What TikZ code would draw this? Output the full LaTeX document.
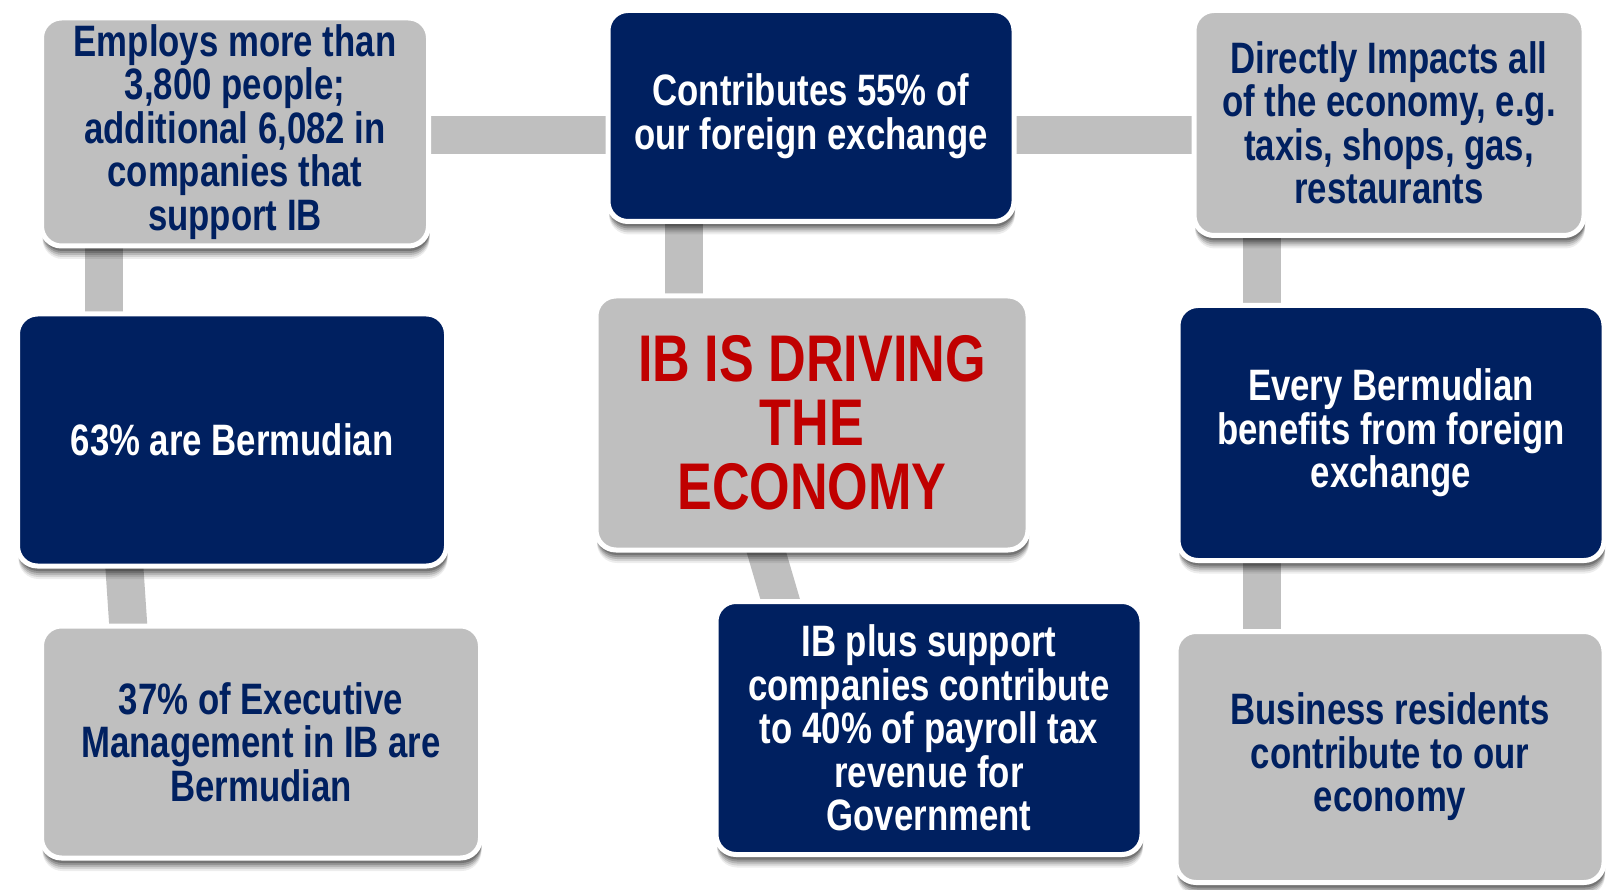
\documentclass[tikz,border=0pt]{standalone}
\usepackage{fontspec}
\setmainfont{Liberation Sans}[FakeStretch=0.79]
\usetikzlibrary{shadows}
\definecolor{navy}{HTML}{002060}
\definecolor{boxgray}{HTML}{BFBFBF}
\definecolor{ibred}{HTML}{C00000}
\tikzset{
  box/.style={rounded corners=20pt, draw=white, line width=5pt, align=center, inner sep=0pt,
    font=\bfseries\fontsize{44}{43.5}\selectfont,
    drop shadow={shadow xshift=1pt, shadow yshift=-13pt, opacity=0.07, fill=black},
    drop shadow={shadow xshift=1pt, shadow yshift=-11pt, opacity=0.10, fill=black},
    drop shadow={shadow xshift=1pt, shadow yshift=-9pt, opacity=0.14, fill=black},
    drop shadow={shadow xshift=1pt, shadow yshift=-7pt, opacity=0.18, fill=black},
    drop shadow={shadow xshift=1pt, shadow yshift=-5pt, opacity=0.22, fill=black}},
  navybox/.style={box, fill=navy, text=white},
  graybox/.style={box, fill=boxgray, text=navy},
  conn/.style={draw=boxgray, line width=38pt},
}
\begin{document}
\begin{tikzpicture}[x=1pt, y=-1pt]
\useasboundingbox (0,0) rectangle (1610,890);
\fill[white] (0,0) rectangle (1610,890);
% anchor coordinates for connectors
\coordinate (hy) at (0,135);
\coordinate (v1x) at (104,0);
\coordinate (v3x) at (684,0);
\coordinate (v4x) at (1262,0);
% invisible placeholders naming the box positions
\path (235,132) node[minimum width=387pt, minimum height=228pt] (emp) {};
\path (811,116) node[minimum width=406pt, minimum height=211pt] (contrib) {};
\path (1389,123) node[minimum width=390pt, minimum height=225pt] (direct) {};
\path (232,440) node[minimum width=429pt, minimum height=252pt] (b63) {};
\path (812,423) node[minimum width=432pt, minimum height=254pt] (ibis) {};
\path (1391,433) node[minimum width=426pt, minimum height=255pt] (every) {};
\path (261,742) node[minimum width=439pt, minimum height=232pt] (b37) {};
\path (929,728) node[minimum width=426pt, minimum height=253pt] (ibplus) {};
\path (1390,757) node[minimum width=428pt, minimum height=251pt] (business) {};
% connectors
\draw[conn] (emp |- hy) -- (contrib |- hy);
\draw[conn] (contrib |- hy) -- (direct |- hy);
\draw[conn] (v1x |- emp) -- (v1x |- b63);
\draw[conn, shorten <=-12pt, shorten >=-12pt] ([xshift=107pt]b63.south west) -- ([xshift=87pt]b37.north west);
\draw[conn] (v3x |- contrib) -- (v3x |- ibis);
\draw[conn, shorten <=-12pt, shorten >=-12pt] ([xshift=170pt]ibis.south west) -- ([xshift=65pt]ibplus.north west);
\draw[conn] (v4x |- direct) -- (v4x |- every);
\draw[conn] (v4x |- every) -- (v4x |- business);
% visible boxes
\node[graybox, minimum width=387pt, minimum height=228pt] (empbox) at (emp) {Employs more than\\3,800 people;\\additional 6,082 in\\companies that\\support IB};
\node[navybox, minimum width=406pt, minimum height=211pt] (contribbox) at (contrib) {Contributes 55\% of\\our foreign exchange};
\node[graybox, minimum width=390pt, minimum height=225pt] (directbox) at (direct) {Directly Impacts all\\of the economy, e.g.\\taxis, shops, gas,\\restaurants};
\node[navybox, minimum width=429pt, minimum height=252pt] (b63box) at (b63) {63\% are Bermudian};
\node[graybox, text=ibred, font=\bfseries\fontsize{66}{64}\selectfont, minimum width=432pt, minimum height=254pt] (ibisbox) at (ibis) {IB IS DRIVING\\THE\\ECONOMY};
\node[navybox, minimum width=426pt, minimum height=255pt] (everybox) at (every) {Every Bermudian\\benefits from foreign\\exchange};
\node[graybox, minimum width=439pt, minimum height=232pt] (b37box) at (b37) {37\% of Executive\\Management in IB are\\Bermudian};
\node[navybox, minimum width=426pt, minimum height=253pt] (ibplusbox) at (ibplus) {IB plus support\\companies contribute\\to 40\% of payroll tax\\revenue for\\Government};
\node[graybox, minimum width=428pt, minimum height=251pt] (businessbox) at (business) {Business residents\\contribute to our\\economy};
\end{tikzpicture}
\end{document}
